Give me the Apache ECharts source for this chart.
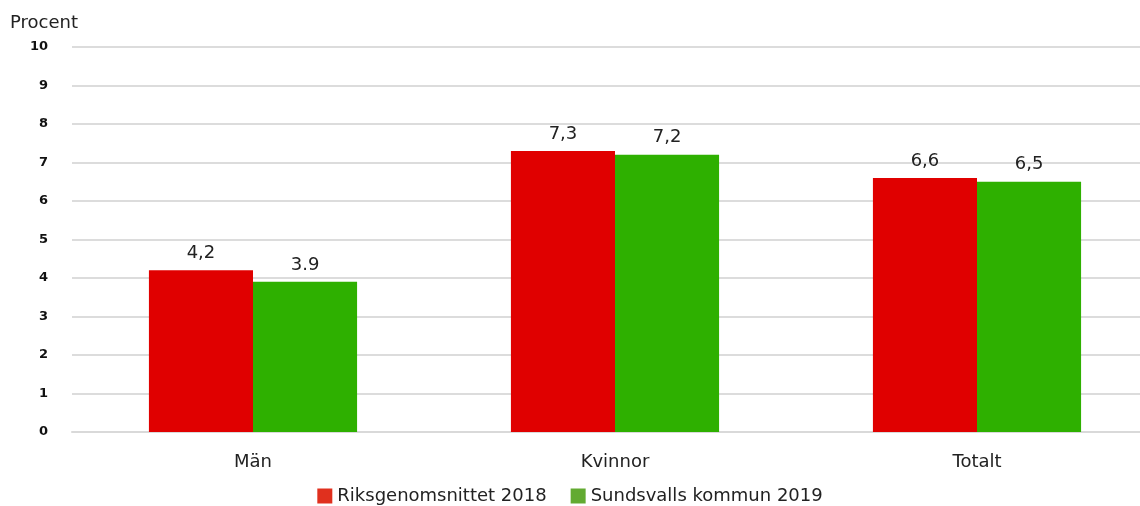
<!DOCTYPE html>
<html><head><meta charset="utf-8">
<script src="https://cdn.jsdelivr.net/npm/echarts@6/dist/echarts.min.js"></script>
<style>html,body{margin:0;padding:0;background:#fff}#c{width:1140px;height:506px}</style>
</head><body><div id="c"></div>
<script>
const categories = ['Män', 'Kvinnor', 'Totalt'];
const seriesNames = ['Riksgenomsnittet 2018', 'Sundsvalls kommun 2019'];
const riks = [4.2, 7.3, 6.6];
const sundsvall = [3.9, 7.2, 6.5];
const riksLabels = ['4,2', '7,3', '6,6'];
const sundsvallLabels = ['3.9', '7,2', '6,5'];
const yTicks = [0, 1, 2, 3, 4, 5, 6, 7, 8, 9, 10];

const font = '"DejaVu Sans", sans-serif';
const chart = echarts.init(document.getElementById('c'));
chart.setOption({
  animation: false,
  textStyle: { fontFamily: font },
  title: { text: 'Procent', left: 5, top: 9, textStyle: { fontFamily: font, fontSize: 18, fontWeight: 'normal', color: '#222' } },
  legend: {
    bottom: -4, left: 'center', itemWidth: 15, itemHeight: 15, itemGap: 24,
    icon: 'rect',
    textStyle: { fontFamily: font, fontSize: 18, color: '#222' },
    data: [
      { name: seriesNames[0], itemStyle: { color: '#e0301e' } },
      { name: seriesNames[1], itemStyle: { color: '#62aa31' } }
    ]
  },
  grid: { left: 72, width: 1086, top: 47, bottom: 74, containLabel: false, outerBoundsMode: 'none' },
  xAxis: {
    type: 'category', data: categories,
    axisLine: { show: true, lineStyle: { color: '#d9d9d9', width: 2 } },
    axisTick: { show: false },
    axisLabel: { fontFamily: font, fontSize: 18, color: '#222', margin: 21 }
  },
  yAxis: {
    type: 'value', min: yTicks[0], max: yTicks[yTicks.length - 1], interval: 1,
    axisLine: { show: false }, axisTick: { show: false },
    axisLabel: { fontFamily: font, fontSize: 13, color: '#111', fontWeight: 'bold', margin: 24 },
    splitLine: { lineStyle: { color: '#dcdcdc', width: 2 } }
  },
  series: [
    {
      name: seriesNames[0], type: 'bar', data: riks, barGap: '0%', barCategoryGap: '42.5%',
      itemStyle: { color: '#e00000' },
      label: { show: true, position: 'top', distance: 8, fontFamily: font, fontSize: 18, color: '#222',
        formatter: p => riksLabels[p.dataIndex] }
    },
    {
      name: seriesNames[1], type: 'bar', data: sundsvall, barGap: '0%', barCategoryGap: '42.5%',
      itemStyle: { color: '#2eb000' },
      label: { show: true, position: 'top', distance: 8, fontFamily: font, fontSize: 18, color: '#222',
        formatter: p => sundsvallLabels[p.dataIndex] }
    }
  ]
});
</script></body></html>
